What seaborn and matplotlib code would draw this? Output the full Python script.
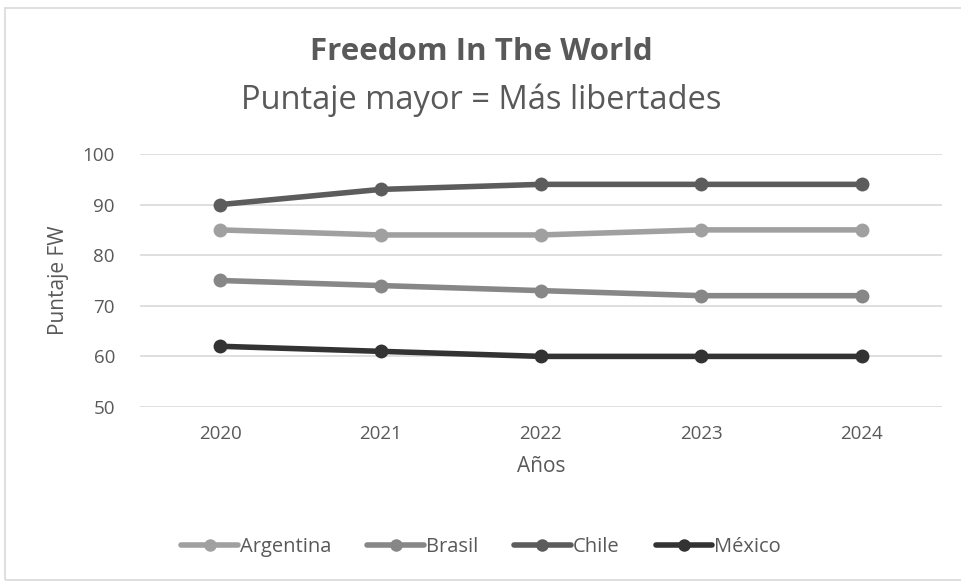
import matplotlib
matplotlib.use("Agg")
import matplotlib.pyplot as plt
import seaborn as sns
import pandas as pd
from matplotlib.patches import Rectangle

anios = ["2020", "2021", "2022", "2023", "2024"]
argentina = [85, 84, 84, 85, 85]
brasil = [75, 74, 73, 72, 72]
chile = [90, 93, 94, 94, 94]
mexico = [62, 61, 60, 60, 60]
paises = ["Argentina", "Brasil", "Chile", "México"]
colores = ["#a0a0a0", "#878787", "#5c5c5c", "#333333"]

C_TEXTO = "#595959"

filas = []
for pais, valores in zip(paises, [argentina, brasil, chile, mexico]):
    for a, v in zip(anios, valores):
        filas.append({"Año": a, "Puntaje": v, "País": pais})
df = pd.DataFrame(filas)

sns.set_theme(style="white")
plt.rcParams["font.family"] = ["Open Sans", "DejaVu Sans"]
plt.rcParams["text.color"] = C_TEXTO

fig = plt.figure(figsize=(9.62, 5.82), dpi=100)
ax = fig.add_axes([0.1455, 0.3007, 0.8335, 0.4347])

sns.lineplot(data=df, x="Año", y="Puntaje", hue="País", palette=colores,
             marker="o", markersize=10, linewidth=4, markeredgewidth=0,
             ax=ax, legend=False)

ax.set_xlim(-0.5, 4.5)
ax.set_ylim(50, 100)
ax.set_yticks(range(50, 101, 10))
ax.yaxis.grid(True, color="#d9d9d9", linewidth=1.2)
ax.set_axisbelow(True)
for s in ax.spines.values():
    s.set_visible(False)
ax.tick_params(axis="both", length=0, labelsize=13.5, labelcolor=C_TEXTO)
ax.tick_params(axis="y", pad=18)
ax.tick_params(axis="x", pad=13)
ax.set_xlabel("Años", fontsize=15, color=C_TEXTO, labelpad=9)
ax.set_ylabel("Puntaje FW", fontsize=15, color=C_TEXTO, labelpad=10)

fig.text(0.5, 1 - 52 / 582, "Freedom In The World", ha="center", va="center",
         fontsize=22.5, fontweight="bold", color=C_TEXTO)
fig.text(0.5, 1 - 100 / 582, "Puntaje mayor = Más libertades", ha="center", va="center",
         fontsize=23.5, color=C_TEXTO)

handles = [plt.Line2D([], [], color=c, marker="o", markersize=9, linewidth=4,
                      markeredgewidth=0) for c in colores]
fig.legend(handles, paises, loc="center", bbox_to_anchor=(0.5, 1 - 547 / 582),
           ncol=4, frameon=False, fontsize=14.5, handlelength=2.8,
           handletextpad=0.1, columnspacing=1.8, labelcolor=C_TEXTO)

fig.patches.append(Rectangle((5 / 962, 2 / 582), 1, 1 - 10 / 582, transform=fig.transFigure,
                             fill=False, edgecolor="#d9d9d9", linewidth=1.2))

fig.savefig("out.png", dpi=100)
